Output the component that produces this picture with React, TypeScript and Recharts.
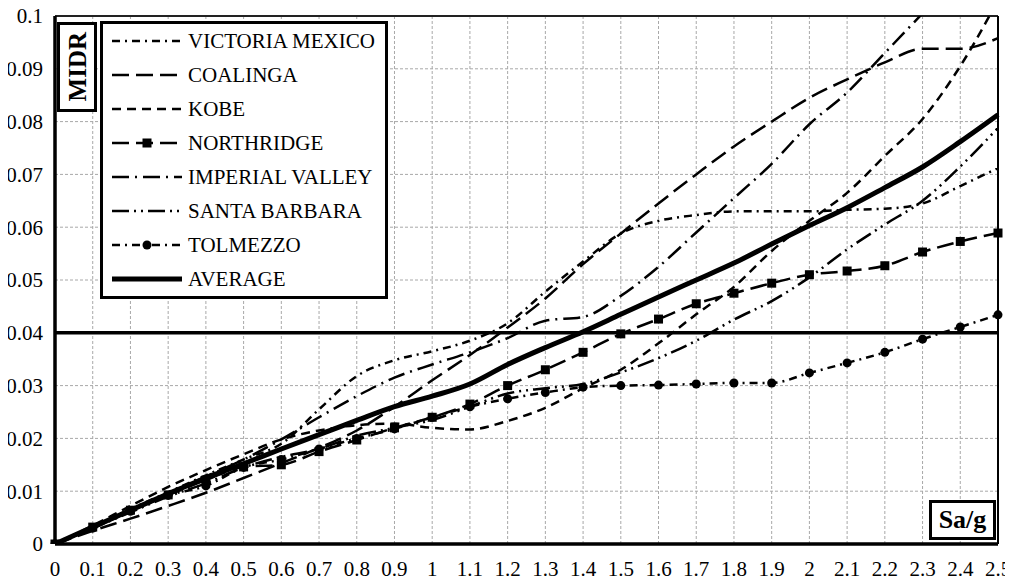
import { CartesianGrid, Legend, Line, LineChart, ReferenceLine, XAxis, YAxis } from "recharts";

const saG = [0, 0.1, 0.2, 0.3, 0.4, 0.5, 0.6, 0.7, 0.8, 0.9, 1, 1.1, 1.2, 1.3, 1.4, 1.5, 1.6, 1.7, 1.8, 1.9, 2, 2.1, 2.2, 2.3, 2.4, 2.5];
const xTickLabels = ["0", "0.1", "0.2", "0.3", "0.4", "0.5", "0.6", "0.7", "0.8", "0.9", "1", "1.1", "1.2", "1.3", "1.4", "1.5", "1.6", "1.7", "1.8", "1.9", "2", "2.1", "2.2", "2.3", "2.4", "2.5"];
const yTicks = [0, 0.01, 0.02, 0.03, 0.04, 0.05, 0.06, 0.07, 0.08, 0.09, 0.1];
const yTickLabels = ["0", "0.01", "0.02", "0.03", "0.04", "0.05", "0.06", "0.07", "0.08", "0.09", "0.1"];

const victoriaMexico = [0, 0.0032, 0.0066, 0.0098, 0.013, 0.016, 0.019, 0.0255, 0.0318, 0.0348, 0.0365, 0.0385, 0.0418, 0.0478, 0.0535, 0.0588, 0.0612, 0.0623, 0.063, 0.063, 0.063, 0.0633, 0.0635, 0.0645, 0.0678, 0.0712];
const coalinga = [0, 0.0025, 0.0048, 0.0072, 0.0097, 0.0125, 0.0153, 0.0182, 0.0215, 0.026, 0.031, 0.0358, 0.041, 0.0465, 0.053, 0.0588, 0.0645, 0.07, 0.0753, 0.08, 0.0845, 0.088, 0.0912, 0.0938, 0.0938, 0.0958];
const kobe = [0, 0.0035, 0.0072, 0.0108, 0.014, 0.017, 0.0198, 0.0215, 0.0225, 0.0228, 0.022, 0.0217, 0.0233, 0.0258, 0.0295, 0.033, 0.038, 0.0435, 0.0487, 0.0555, 0.0612, 0.0665, 0.0735, 0.0805, 0.0905, 0.103];
const northridge = [0, 0.0032, 0.0064, 0.0093, 0.0121, 0.0146, 0.015, 0.0175, 0.0197, 0.022, 0.024, 0.0265, 0.03, 0.033, 0.0363, 0.0398, 0.0426, 0.0455, 0.0475, 0.0494, 0.051, 0.0517, 0.0527, 0.0553, 0.0573, 0.0589];
const imperialValley = [0, 0.003, 0.0063, 0.0096, 0.0128, 0.016, 0.0198, 0.024, 0.028, 0.0315, 0.034, 0.0363, 0.039, 0.0423, 0.043, 0.047, 0.0525, 0.059, 0.0655, 0.072, 0.0795, 0.0855, 0.093, 0.1005, 0.108, 0.115];
const santaBarbara = [0, 0.003, 0.006, 0.009, 0.0115, 0.0145, 0.0165, 0.018, 0.0205, 0.022, 0.0235, 0.026, 0.0285, 0.0295, 0.0303, 0.0325, 0.0352, 0.0385, 0.0425, 0.046, 0.0505, 0.0558, 0.0605, 0.065, 0.0715, 0.0788];
const tolmezzo = [0, 0.003, 0.0062, 0.0092, 0.011, 0.0145, 0.016, 0.018, 0.02, 0.0218, 0.024, 0.026, 0.0275, 0.0287, 0.0297, 0.03, 0.0301, 0.0303, 0.0305, 0.0305, 0.0324, 0.0343, 0.0363, 0.0388, 0.0411, 0.0434];
const average = [0, 0.0032, 0.0064, 0.0095, 0.0125, 0.0152, 0.018, 0.0207, 0.0234, 0.026, 0.028, 0.0303, 0.034, 0.0372, 0.0402, 0.0435, 0.0468, 0.05, 0.0532, 0.0568, 0.0603, 0.0637, 0.0675, 0.0714, 0.0762, 0.0813];

const series = [
  { key: "victoria", name: "VICTORIA MEXICO", values: victoriaMexico, dash: "8 5 2 5", width: 2.5, marker: "" },
  { key: "coalinga", name: "COALINGA", values: coalinga, dash: "17 7", width: 2.5, marker: "" },
  { key: "kobe", name: "KOBE", values: kobe, dash: "9 6", width: 2.5, marker: "" },
  { key: "northridge", name: "NORTHRIDGE", values: northridge, dash: "17 7", width: 2.5, marker: "square" },
  { key: "imperial", name: "IMPERIAL VALLEY", values: imperialValley, dash: "17 6 2 6", width: 2.5, marker: "" },
  { key: "santa", name: "SANTA BARBARA", values: santaBarbara, dash: "17 5 2 5 2 5", width: 2.5, marker: "" },
  { key: "tolmezzo", name: "TOLMEZZO", values: tolmezzo, dash: "8 5 2 5", width: 2.5, marker: "circle" },
  { key: "average", name: "AVERAGE", values: average, dash: undefined, width: 5, marker: "" },
];

const rows = saG.map((sa, i) => {
  const row: Record<string, number> = { sa };
  series.forEach((s) => (row[s.key] = s.values[i]));
  return row;
});

const font = '"Liberation Serif", "Times New Roman", serif';

const squareDot = (p: any) => (
  <rect key={`sq-${p.index}`} x={p.cx - 4.5} y={p.cy - 4.5} width={9} height={9} fill="#000" />
);
const circleDot = (p: any) => <circle key={`ci-${p.index}`} cx={p.cx} cy={p.cy} r={4.5} fill="#000" />;

const renderLegend = () => (
  <div
    style={{
      width: 288,
      height: 278,
      boxSizing: "border-box",
      border: "3px solid #000",
      background: "#fff",
      fontFamily: font,
      textAlign: "left",
    }}
  >
    {series.map((s) => (
      <div key={s.key} style={{ display: "flex", alignItems: "center", height: 34 }}>
        <svg width={70} height={14} style={{ marginLeft: 9, marginRight: 6, flex: "none" }}>
          <line x1={0} y1={7} x2={70} y2={7} stroke="#000" strokeWidth={s.width} strokeDasharray={s.dash} />
          {s.marker === "square" && <rect x={30.5} y={2.5} width={9} height={9} fill="#000" />}
          {s.marker === "circle" && <circle cx={35} cy={7} r={4.5} fill="#000" />}
        </svg>
        <span style={{ fontSize: 21, lineHeight: "21px", color: "#000" }}>{s.name}</span>
      </div>
    ))}
  </div>
);

const boxStyle = {
  position: "absolute" as const,
  boxSizing: "border-box" as const,
  border: "3px solid #000",
  background: "#fff",
  display: "flex",
  alignItems: "center",
  justifyContent: "center",
};

export default function App() {
  return (
    <div style={{ position: "relative", width: 1005, height: 573, fontFamily: font }}>
      {/* y tick labels start a touch left of the svg, as in the original */}
      <style>{".recharts-surface { overflow: visible; }"}</style>
      <LineChart width={1005} height={573} data={rows} margin={{ top: 8, right: 15, bottom: 0, left: 0 }}>
        <CartesianGrid stroke="#a8a8a8" strokeDasharray="3 2" strokeWidth={1} />
        <XAxis
          dataKey="sa"
          type="number"
          domain={[0, 2.5]}
          ticks={saG}
          tickFormatter={(v: number) => xTickLabels[saG.indexOf(v)]}
          interval={0}
          height={37}
          tickLine={false}
          tickSize={0}
          tickMargin={17}
          axisLine={{ stroke: "#000", strokeWidth: 3.5 }}
          tick={{ fill: "#000", fontSize: 21, fontFamily: font }}
        />
        <YAxis
          type="number"
          domain={[0, 0.1]}
          allowDataOverflow
          ticks={yTicks}
          tickFormatter={(v: number) => yTickLabels[yTicks.indexOf(v)]}
          interval={0}
          width={47}
          tickLine={false}
          tickSize={0}
          tickMargin={12}
          axisLine={{ stroke: "#000", strokeWidth: 3.5 }}
          tick={{ fill: "#000", fontSize: 21, fontFamily: font }}
        />
        <ReferenceLine y={0.1} stroke="#222" strokeWidth={2} />
        <ReferenceLine x={2.5} stroke="#000" strokeWidth={2} />
        <ReferenceLine y={0.04} stroke="#000" strokeWidth={3.5} />
        {series.map((s) => (
          <Line
            key={s.key}
            dataKey={s.key}
            name={s.name}
            type="monotone"
            stroke="#000"
            strokeWidth={s.width}
            strokeDasharray={s.dash}
            dot={s.marker === "square" ? squareDot : s.marker === "circle" ? circleDot : false}
            activeDot={false}
            isAnimationActive={false}
          />
        ))}
        <Legend
          layout="vertical"
          align="center"
          verticalAlign="middle"
          content={renderLegend}
          wrapperStyle={{ position: "absolute", left: 92, top: 13, width: 288, height: 278 }}
        />
      </LineChart>
      <div style={{ ...boxStyle, left: 49, top: 14, width: 40, height: 90 }}>
        <span style={{ writingMode: "vertical-rl", transform: "rotate(180deg)", fontWeight: "bold", fontSize: 25, lineHeight: "25px" }}>
          MIDR
        </span>
      </div>
      <div style={{ ...boxStyle, left: 921, top: 492, width: 67, height: 40 }}>
        <span style={{ fontWeight: "bold", fontSize: 26, lineHeight: "26px" }}>Sa/g</span>
      </div>
    </div>
  );
}
